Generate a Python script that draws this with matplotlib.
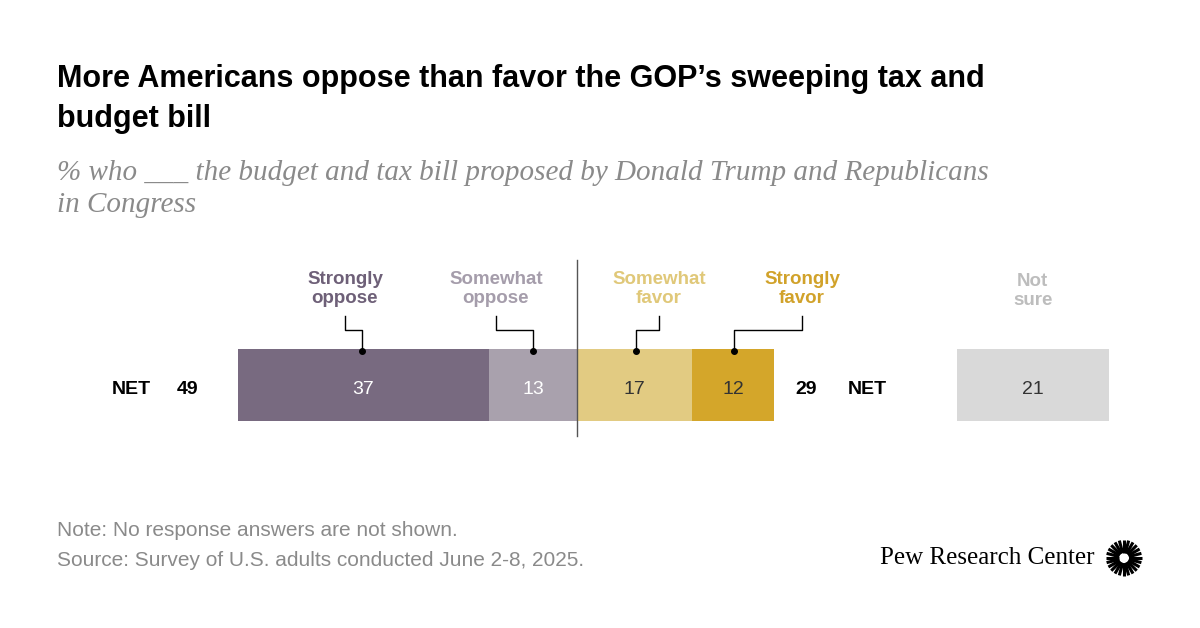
import matplotlib
matplotlib.use("Agg")
import matplotlib.pyplot as plt
import numpy as np

categories = ["Strongly\noppose", "Somewhat\noppose", "Somewhat\nfavor", "Strongly\nfavor"]
values = [37, 13, 17, 12]
not_sure = 21
net_oppose = 49
net_favor = 29

bar_colors = ["#786a80", "#a9a1ad", "#e2cb82", "#d4a62a"]
label_colors = ["#6e6078", "#a59dab", "#e0c879", "#d1a22a"]
text_colors = ["white", "white", "#333333", "#333333"]

fig = plt.figure(figsize=(12, 6.28), dpi=100)
ax = fig.add_axes([0, 0, 1, 1])
scale = 6.78  # px per percentage point
ax.set_xlim(-577 / scale, 623 / scale)
ax.set_ylim(628, 0)
ax.axis("off")

def px(x):
    return (x - 577) / scale

# stacked bars, oppose to the left of zero
lefts = [-(values[0] + values[1]), -values[1], 0, values[2]]
for left, v, c, tc in zip(lefts, values, bar_colors, text_colors):
    ax.barh(385, v, left=left, height=72, color=c)
    ax.text(left + v / 2, 389, str(v), ha="center", va="center", fontsize=14,
            color=tc, family="Liberation Sans")

ns_left = 56
ns_w = not_sure * 1.07
ax.barh(385, ns_w, left=ns_left, height=72, color="#d9d9d9")
ax.text(ns_left + ns_w / 2, 389, str(not_sure), ha="center", va="center",
        fontsize=14, color="#333333", family="Liberation Sans")

ax.axvline(0, ymin=1 - 436 / 628, ymax=1 - 260 / 628, color="#555555", lw=1)

# category labels with leader lines
label_x = [px(345), px(496), px(659), px(802)]
dot_x = [px(362), px(533), px(636), px(734)]
for i, (lab, lx, bx) in enumerate(zip(categories, label_x, dot_x)):
    ax.text(lx, 289, lab, ha="center", va="center", fontsize=13.5, fontweight="bold",
            color=label_colors[i], family="Liberation Sans", linespacing=1.15)
    ax.plot([lx, lx, bx, bx], [316, 330, 330, 351], color="black", lw=1)
    ax.plot(bx, 351, "o", color="black", ms=4)
ax.text(ns_left + ns_w / 2, 291, "Not\nsure", ha="center", va="center",
        fontsize=13.5, fontweight="bold", color="#bdbdbd", family="Liberation Sans",
        linespacing=1.15)

# NET labels
for xp, s in [(112, "NET"), (177, str(net_oppose)), (795, str(net_favor)), (848, "NET")]:
    ax.text(px(xp), 389, s, ha="left", va="center", fontsize=14,
            fontweight="bold", family="Liberation Sans")

# titles and notes
fig.text(57 / 1200, 1 - 99 / 628,
         "More Americans oppose than favor the GOP\u2019s sweeping tax and\nbudget bill",
         fontsize=22, fontweight="bold", va="center", ha="left",
         family="Liberation Sans", linespacing=1.45)
fig.text(57 / 1200, 1 - 189 / 628,
         "% who ___ the budget and tax bill proposed by Donald Trump and Republicans\nin Congress",
         fontsize=21, style="italic", color="#8a8a8a", va="center", ha="left",
         family="Liberation Serif", linespacing=1.3)
fig.text(57 / 1200, 1 - 531 / 628, "Note: No response answers are not shown.",
         fontsize=15, color="#8a8a8a", va="center", family="Liberation Sans")
fig.text(57 / 1200, 1 - 561 / 628, "Source: Survey of U.S. adults conducted June 2-8, 2025.",
         fontsize=15, color="#8a8a8a", va="center", family="Liberation Sans")
fig.text(1095 / 1200, 1 - 558 / 628, "Pew Research Center", fontsize=18,
         ha="right", va="center", family="Liberation Serif")

# logo: sunburst
cx, cy = 1124, 558
for a in np.linspace(0, 2 * np.pi, 24, endpoint=False):
    r0, r1 = 5, 18
    ax.plot([px(cx + r0 * np.cos(a)), px(cx + r1 * np.cos(a))],
            [cy + r0 * np.sin(a), cy + r1 * np.sin(a)], color="black", lw=2.2,
            solid_capstyle="butt")

fig.savefig("out.png", dpi=100, facecolor="white")
